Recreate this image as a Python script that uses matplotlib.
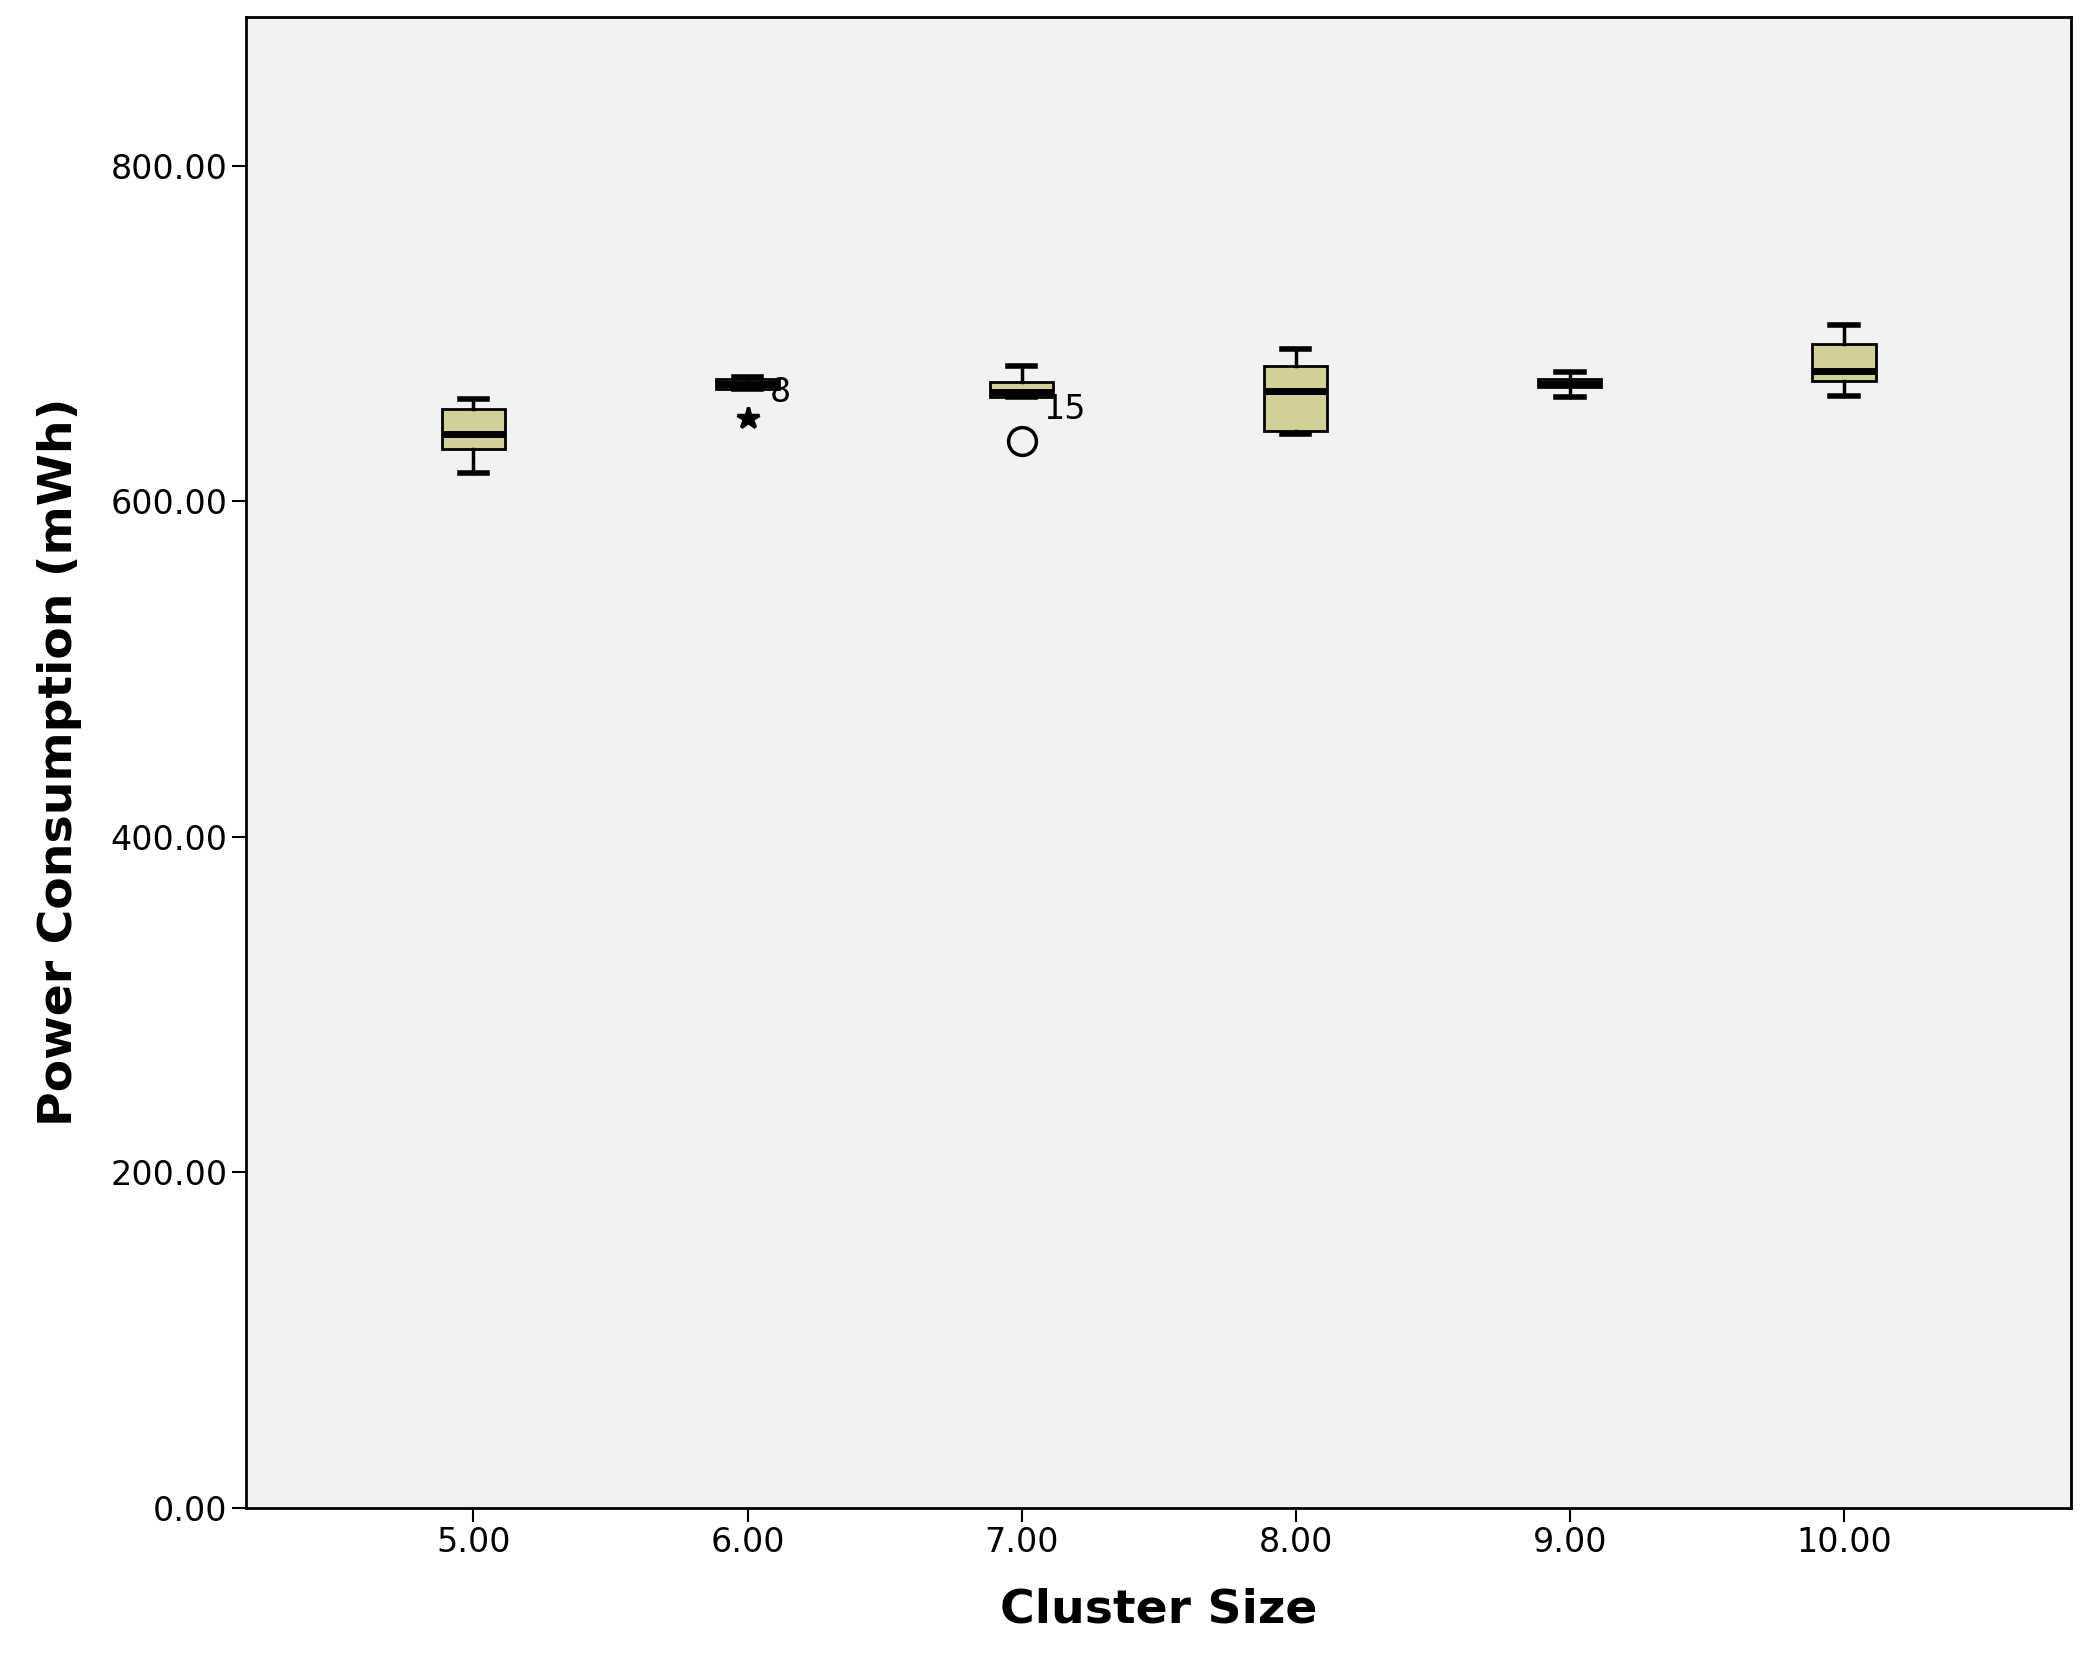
import matplotlib
matplotlib.use("Agg")
import matplotlib.pyplot as plt

positions = [5, 6, 7, 8, 9, 10]
whislo = [617, 667, 662, 640, 662, 663]
q1 = [631, 667, 662, 642, 668, 672]
med = [640, 670, 665, 666, 670, 678]
q3 = [655, 673, 671, 681, 673, 694]
whishi = [661, 674, 681, 691, 677, 705]
out_x = [6, 7]
out_y = [650, 636]
out_marker = ['*', 'o']
labels = [(6, 665, '8'), (7, 655, '15')]
yticks = [0, 200, 400, 600, 800]

fig = plt.figure(figsize=(20.84, 16.66), dpi=100)
ax = fig.add_axes([0.118, 0.095, 0.876, 0.895])
ax.set_facecolor('#f2f2f2')
stats = [dict(whislo=a, q1=b, med=c, q3=d, whishi=e, fliers=[])
         for a, b, c, d, e in zip(whislo, q1, med, q3, whishi)]
ax.bxp(stats, positions=positions, widths=0.23, patch_artist=True,
       boxprops=dict(facecolor='#d3cf98', edgecolor='black', linewidth=2),
       medianprops=dict(color='black', linewidth=5),
       whiskerprops=dict(color='black', linewidth=2.5),
       capprops=dict(color='black', linewidth=4), capwidths=0.1)
for x, y, m in zip(out_x, out_y, out_marker):
    ax.plot(x, y, marker=m, ms=16 if m == '*' else 20, mfc='none' if m == 'o' else 'black',
            mec='black', mew=2.5, ls='none')
for x, y, t in labels:
    ax.text(x + 0.08, y, t, fontsize=24, va='center', ha='left')
ax.set_xlim(4.17, 10.83)
ax.set_ylim(0, 889)
ax.set_xticks(positions)
ax.set_xticklabels([f"{p:.2f}" for p in positions], fontsize=24)
ax.set_yticks(yticks)
ax.set_yticklabels([f"{v:.2f}" for v in yticks], fontsize=24)
ax.tick_params(length=10, width=1.5)
for s in ax.spines.values():
    s.set_linewidth(2)
ax.set_xlabel('Cluster Size', fontsize=34, fontweight='bold', labelpad=20)
ax.set_ylabel('Power Consumption (mWh)', fontsize=34, fontweight='bold', labelpad=20)
fig.savefig('out.png', dpi=100)
